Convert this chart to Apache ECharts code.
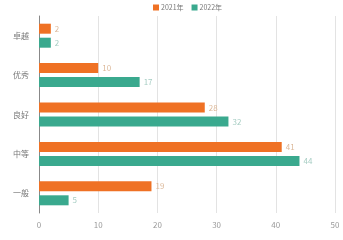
<!DOCTYPE html>
<html><head><meta charset="utf-8">
<script src="https://cdn.jsdelivr.net/npm/echarts@6/dist/echarts.min.js"></script>
<style>html,body{margin:0;padding:0;background:#fff}#c{width:343px;height:240px}</style>
</head><body><div id="c"></div>
<script>
const categories = ['卓越','优秀','良好','中等','一般'];
const series2021 = [2,10,28,41,19];
const series2022 = [2,17,32,44,5];
const xTicks = [0,10,20,30,40,50];

const chart = echarts.init(document.getElementById('c'));
chart.setOption({
  animation:false,
  textStyle:{fontFamily:'"Noto Sans CJK SC", "Noto Sans", sans-serif'},
  legend:{
    top:4, left:153, itemWidth:6, itemHeight:6, itemGap:8,
    icon:'rect', padding:[0,0,0,0],
    textStyle:{fontSize:7, color:'#777', padding:[0,0,0,-3]},
    data:['2021年','2022年']
  },
  grid:{left:39, right:8, top:16, bottom:27},
  xAxis:{
    type:'value', min:0, max:50, interval:10,
    axisLine:{show:false}, axisTick:{show:false},
    axisLabel:{fontSize:8, color:'#999', margin:8},
    splitLine:{lineStyle:{color:'#e3e3e3'}}
  },
  yAxis:{
    type:'category', data:categories, inverse:true,
    axisLine:{lineStyle:{color:'#888'}}, axisTick:{show:false},
    axisLabel:{fontSize:8, color:'#777', margin:10}
  },
  series:[
    {name:'2021年', type:'bar', data:series2021, barWidth:10, barGap:'40%',
     itemStyle:{color:'#ef7124'},
     label:{show:true, position:'right', fontSize:8, color:'#dcb899', distance:4}},
    {name:'2022年', type:'bar', data:series2022, barWidth:10, barGap:'40%',
     itemStyle:{color:'#3aa98e'},
     label:{show:true, position:'right', fontSize:8, color:'#a6cdc3', distance:4}}
  ]
});
</script></body></html>
